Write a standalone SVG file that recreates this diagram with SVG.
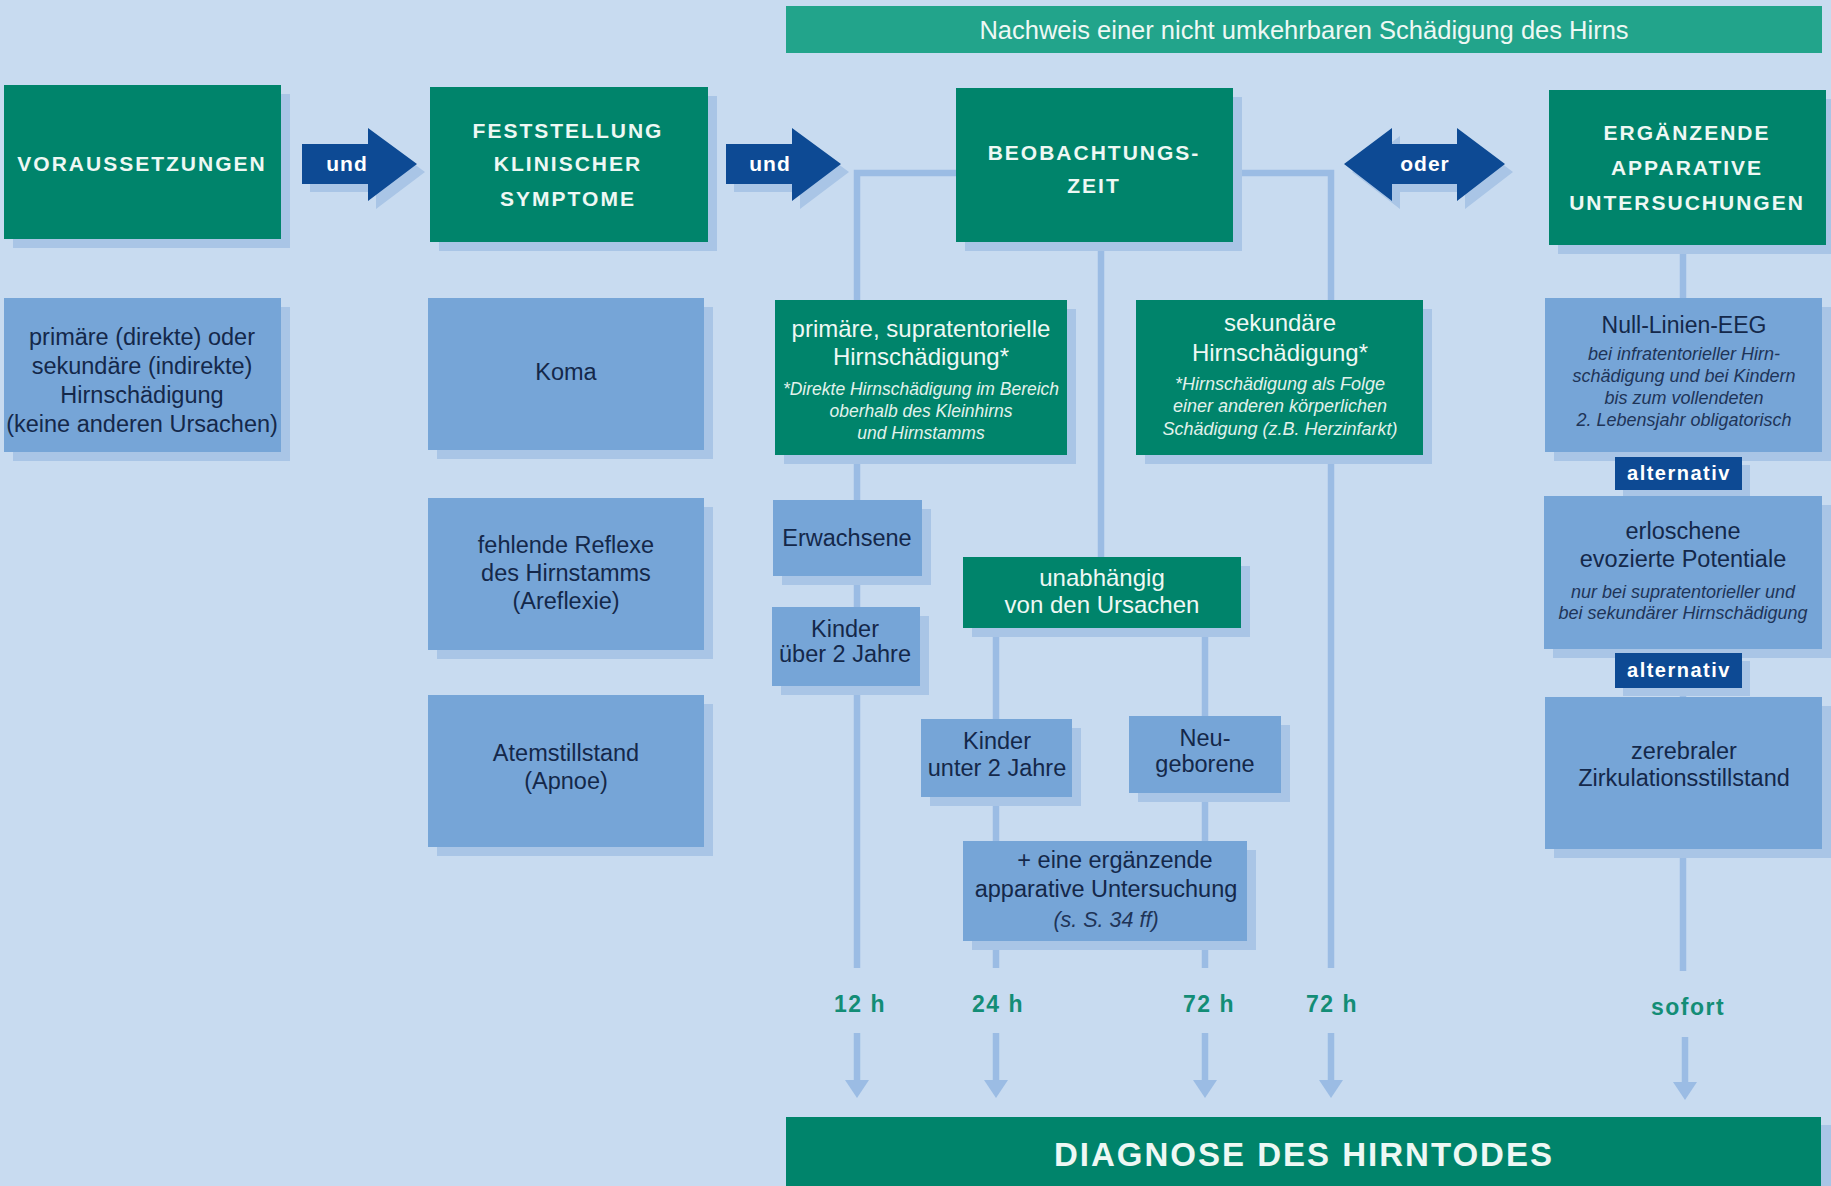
<svg xmlns="http://www.w3.org/2000/svg" width="1831" height="1186" viewBox="0 0 1831 1186">
<style>
text{font-family:"Liberation Sans",Arial,sans-serif;text-anchor:middle}
.bg{fill:#c8dbf0}
.sh{fill:#a9c5e6}
.g{fill:#00846b}
.b{fill:#76a5d7}
.d{fill:#0d4a94}
.ban{fill:#22a48b}
.hdr{font-weight:bold;font-size:21px;letter-spacing:2px;fill:#eef8f4}
.gt{font-size:24px;fill:#eef8f4}
.gi{font-size:18px;font-style:italic;fill:#e2f2ec}
.bt{font-size:23.5px;fill:#14284a}
.bi{font-size:18px;font-style:italic;fill:#1e3458}
.wt{font-weight:bold;font-size:21px;letter-spacing:1px;fill:#ffffff}
.alt{font-weight:bold;font-size:20px;letter-spacing:1.5px;fill:#ffffff}
.tm{font-weight:bold;font-size:23px;letter-spacing:1.5px;fill:#138d76}
.ln{fill:none;stroke:#9bbce4;stroke-width:6.5}
</style>
<defs>
<marker id="ah" markerWidth="26" markerHeight="26" refX="0" refY="12" orient="auto" markerUnits="userSpaceOnUse" overflow="visible">
<path d="M0,0 L18,12 L0,24 Z" fill="#9bbce4"/>
</marker>
</defs>
<rect class="bg" x="0" y="0" width="1831" height="1186"/>

<g id="connectors">
<path class="ln" d="M956 173 H857 V968"/>
<path class="ln" d="M1101 242 V557"/>
<path class="ln" d="M996 628 V968"/>
<path class="ln" d="M1205 628 V968"/>
<path class="ln" d="M1233 173 H1331 V968"/>
<path class="ln" d="M1683 245 V971"/>
<path class="ln" d="M857 1033 V1080" marker-end="url(#ah)"/>
<path class="ln" d="M996 1033 V1080" marker-end="url(#ah)"/>
<path class="ln" d="M1205 1033 V1080" marker-end="url(#ah)"/>
<path class="ln" d="M1331 1033 V1080" marker-end="url(#ah)"/>
<path class="ln" d="M1685 1037 V1082" marker-end="url(#ah)"/>
</g>

<g id="banner">
<rect class="ban" x="786" y="6" width="1036" height="47"/>
<text x="1304" y="39" style="font-size:25.5px;fill:#eef8f4">Nachweis einer nicht umkehrbaren Schädigung des Hirns</text>
</g>

<g id="voraussetzungen">
<rect class="sh" x="13" y="94" width="277" height="154"/>
<rect class="g" x="4" y="85" width="277" height="154"/>
<text class="hdr" x="142" y="171">VORAUSSETZUNGEN</text>
</g>

<g id="arrow-und-1">
<path class="sh" d="M310 152 H376 V136 L425 172 L376 209 V192 H310 Z"/>
<path class="d" d="M302 144 H368 V128 L417 164 L368 201 V184 H302 Z"/>
<text class="wt" x="347" y="171">und</text>
</g>

<g id="feststellung">
<rect class="sh" x="439" y="96" width="278" height="155"/>
<rect class="g" x="430" y="87" width="278" height="155"/>
<text class="hdr" x="568" y="138">FESTSTELLUNG</text>
<text class="hdr" x="568" y="171">KLINISCHER</text>
<text class="hdr" x="568" y="206">SYMPTOME</text>
</g>

<g id="arrow-und-2">
<path class="sh" d="M734 152 H800 V136 L849 172 L800 209 V192 H734 Z"/>
<path class="d" d="M726 144 H792 V128 L841 164 L792 201 V184 H726 Z"/>
<text class="wt" x="770" y="171">und</text>
</g>

<g id="beobachtungszeit">
<rect class="sh" x="965" y="97" width="277" height="154"/>
<rect class="g" x="956" y="88" width="277" height="154"/>
<text class="hdr" x="1094" y="160">BEOBACHTUNGS-</text>
<text class="hdr" x="1094" y="193">ZEIT</text>
</g>

<g id="arrow-oder">
<path class="sh" d="M1352 172 L1400 136 V152 H1465 V136 L1513 172 L1465 209 V192 H1400 V209 Z"/>
<path class="d" d="M1344 164 L1392 128 V144 H1457 V128 L1505 164 L1457 201 V184 H1392 V201 Z"/>
<text class="wt" x="1425" y="171">oder</text>
</g>

<g id="ergaenzende">
<rect class="sh" x="1558" y="99" width="273" height="155"/>
<rect class="g" x="1549" y="90" width="277" height="155"/>
<text class="hdr" x="1687" y="140">ERGÄNZENDE</text>
<text class="hdr" x="1687" y="175">APPARATIVE</text>
<text class="hdr" x="1687" y="210">UNTERSUCHUNGEN</text>
</g>

<g id="primaer-direkt">
<rect class="sh" x="13" y="307" width="277" height="154"/>
<rect class="b" x="4" y="298" width="277" height="154"/>
<text class="bt" x="142" y="345">primäre (direkte) oder</text>
<text class="bt" x="142" y="374">sekundäre (indirekte)</text>
<text class="bt" x="142" y="403">Hirnschädigung</text>
<text class="bt" x="142" y="432">(keine anderen Ursachen)</text>
</g>

<g id="koma">
<rect class="sh" x="437" y="307" width="276" height="152"/>
<rect class="b" x="428" y="298" width="276" height="152"/>
<text class="bt" x="566" y="380">Koma</text>
</g>

<g id="reflexe">
<rect class="sh" x="437" y="507" width="276" height="152"/>
<rect class="b" x="428" y="498" width="276" height="152"/>
<text class="bt" x="566" y="553">fehlende Reflexe</text>
<text class="bt" x="566" y="581">des Hirnstamms</text>
<text class="bt" x="566" y="609">(Areflexie)</text>
</g>

<g id="apnoe">
<rect class="sh" x="437" y="704" width="276" height="152"/>
<rect class="b" x="428" y="695" width="276" height="152"/>
<text class="bt" x="566" y="761">Atemstillstand</text>
<text class="bt" x="566" y="789">(Apnoe)</text>
</g>

<g id="primaer-supra">
<rect class="sh" x="784" y="309" width="292" height="155"/>
<rect class="g" x="775" y="300" width="292" height="155"/>
<text class="gt" x="921" y="337">primäre, supratentorielle</text>
<text class="gt" x="921" y="365">Hirnschädigung*</text>
<text class="gi" x="921" y="395" style="font-size:17.5px">*Direkte Hirnschädigung im Bereich</text>
<text class="gi" x="921" y="417" style="font-size:17.5px">oberhalb des Kleinhirns</text>
<text class="gi" x="921" y="439" style="font-size:17.5px">und Hirnstamms</text>
</g>

<g id="sekundaer">
<rect class="sh" x="1145" y="309" width="287" height="155"/>
<rect class="g" x="1136" y="300" width="287" height="155"/>
<text class="gt" x="1280" y="331">sekundäre</text>
<text class="gt" x="1280" y="361">Hirnschädigung*</text>
<text class="gi" x="1280" y="390">*Hirnschädigung als Folge</text>
<text class="gi" x="1280" y="412">einer anderen körperlichen</text>
<text class="gi" x="1280" y="435">Schädigung (z.B. Herzinfarkt)</text>
</g>

<g id="erwachsene">
<rect class="sh" x="782" y="509" width="149" height="76"/>
<rect class="b" x="773" y="500" width="149" height="76"/>
<text class="bt" x="847" y="546">Erwachsene</text>
</g>

<g id="kinder-ueber">
<rect class="sh" x="781" y="616" width="148" height="79"/>
<rect class="b" x="772" y="607" width="148" height="79"/>
<text class="bt" x="845" y="637">Kinder</text>
<text class="bt" x="845" y="662">über 2 Jahre</text>
</g>

<g id="unabhaengig">
<rect class="sh" x="972" y="566" width="278" height="71"/>
<rect class="g" x="963" y="557" width="278" height="71"/>
<text class="gt" x="1102" y="586">unabhängig</text>
<text class="gt" x="1102" y="613">von den Ursachen</text>
</g>

<g id="kinder-unter">
<rect class="sh" x="930" y="728" width="151" height="78"/>
<rect class="b" x="921" y="719" width="151" height="78"/>
<text class="bt" x="997" y="749">Kinder</text>
<text class="bt" x="997" y="776">unter 2 Jahre</text>
</g>

<g id="neugeborene">
<rect class="sh" x="1138" y="725" width="152" height="77"/>
<rect class="b" x="1129" y="716" width="152" height="77"/>
<text class="bt" x="1205" y="746">Neu-</text>
<text class="bt" x="1205" y="772">geborene</text>
</g>

<g id="ergaenzende-untersuchung">
<rect class="sh" x="972" y="850" width="284" height="100"/>
<rect class="b" x="963" y="841" width="284" height="100"/>
<text class="bt" x="1115" y="868">+ eine ergänzende</text>
<text class="bt" x="1106" y="897">apparative Untersuchung</text>
<text class="bi" x="1106" y="927" style="font-size:21.5px">(s. S. 34 ff)</text>
</g>

<g id="eeg">
<rect class="sh" x="1554" y="307" width="277" height="154"/>
<rect class="b" x="1545" y="298" width="277" height="154"/>
<text class="bt" x="1684" y="333" style="font-size:23px">Null-Linien-EEG</text>
<text class="bi" x="1684" y="360">bei infratentorieller Hirn-</text>
<text class="bi" x="1684" y="382">schädigung und bei Kindern</text>
<text class="bi" x="1684" y="404">bis zum vollendeten</text>
<text class="bi" x="1684" y="426">2. Lebensjahr obligatorisch</text>
</g>

<g id="alternativ-1">
<rect class="sh" x="1623" y="465" width="127" height="33"/>
<rect class="d" x="1615" y="457" width="127" height="33"/>
<text class="alt" x="1679" y="480">alternativ</text>
</g>

<g id="evozierte">
<rect class="sh" x="1553" y="505" width="278" height="153"/>
<rect class="b" x="1544" y="496" width="278" height="153"/>
<text class="bt" x="1683" y="539">erloschene</text>
<text class="bt" x="1683" y="567">evozierte Potentiale</text>
<text class="bi" x="1683" y="598">nur bei supratentorieller und</text>
<text class="bi" x="1683" y="619">bei sekundärer Hirnschädigung</text>
</g>

<g id="alternativ-2">
<rect class="sh" x="1623" y="661" width="127" height="35"/>
<rect class="d" x="1615" y="653" width="127" height="35"/>
<text class="alt" x="1679" y="677">alternativ</text>
</g>

<g id="zirkulation">
<rect class="sh" x="1554" y="706" width="277" height="152"/>
<rect class="b" x="1545" y="697" width="277" height="152"/>
<text class="bt" x="1684" y="759">zerebraler</text>
<text class="bt" x="1684" y="786">Zirkulationsstillstand</text>
</g>

<g id="zeiten">
<text class="tm" x="860" y="1012">12 h</text>
<text class="tm" x="998" y="1012">24 h</text>
<text class="tm" x="1209" y="1012">72 h</text>
<text class="tm" x="1332" y="1012">72 h</text>
<text class="tm" x="1688" y="1015">sofort</text>
</g>

<g id="diagnose">
<rect class="sh" x="794" y="1125" width="1037" height="68"/>
<rect class="g" x="786" y="1117" width="1035" height="69"/>
<text x="1304" y="1166" style="font-weight:bold;font-size:33px;letter-spacing:2px;fill:#eef8f4">DIAGNOSE DES HIRNTODES</text>
</g>
</svg>
